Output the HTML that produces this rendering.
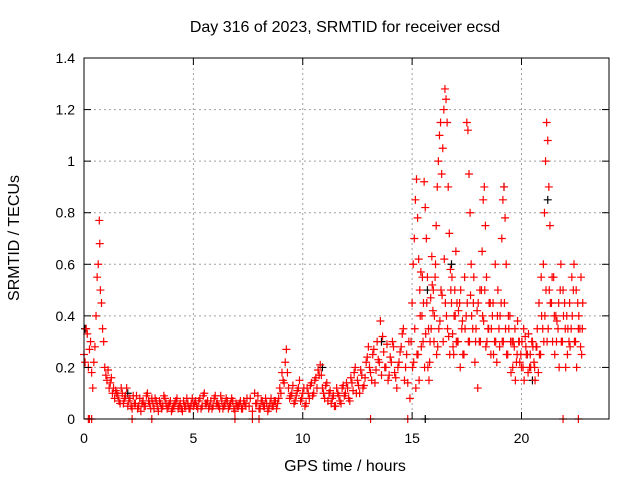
<!DOCTYPE html>
<html><head><meta charset="utf-8"><style>
body{margin:0;background:#fff}
svg{display:block;font-family:"Liberation Sans",sans-serif}
</style></head><body>
<svg id="c" width="640" height="480">
<text x="345" y="32" text-anchor="middle" font-size="16">Day 316 of 2023, SRMTID for receiver ecsd</text>
<text x="345" y="471" text-anchor="middle" font-size="16">GPS time / hours</text>
<text transform="translate(19,238) rotate(-90)" text-anchor="middle" font-size="16">SRMTID / TECUs</text>
<g id="grid"></g><g id="marks"></g><g id="axes"></g>
</svg>
<script>
const hours=[0,0.05,0.1,0.15,0.2,0.25,0.3,0.35,0.4,0.45,0.5,0.55,0.6,0.65,0.7,0.72,0.75,0.8,0.85,0.9,0.95,1.0,1.05,1.1,1.15,1.2,1.3,1.35,1.4,1.5,1.6,1.7,1.8,1.9,2.0,2.1,2.2,2.3,2.4,2.5,2.6,2.7,2.8,2.9,3.0,3.1,3.2,3.3,3.4,3.5,3.6,3.7,3.8,3.9,4.0,4.1,4.2,4.3,4.4,4.5,4.6,4.7,4.8,4.9,5.0,5.1,5.2,5.3,5.4,5.5,5.6,5.7,5.8,5.9,6.0,6.1,6.2,6.3,6.4,6.5,6.6,6.7,6.8,6.9,7.0,7.1,7.2,7.3,7.4,7.6,7.7,7.8,7.9,8.0,8.1,8.2,8.3,8.4,8.5,8.6,8.7,8.8,8.9,9.0,9.1,9.2,9.25,9.3,9.35,9.4,9.5,9.6,9.7,9.8,9.9,10.0,10.1,10.2,10.3,10.4,10.5,10.6,10.7,10.8,10.85,10.9,11.0,11.1,11.2,11.3,11.4,11.5,11.6,11.7,11.8,11.9,12.0,12.1,12.2,12.3,12.4,12.5,12.6,12.7,12.8,12.9,13.0,13.1,13.2,13.3,13.4,13.5,13.55,13.6,13.7,13.8,13.9,14.0,14.1,14.2,14.3,14.4,14.5,14.6,14.7,14.8,14.9,14.95,15.0,15.05,15.1,15.15,15.2,15.25,15.3,15.35,15.4,15.45,15.5,15.55,15.6,15.65,15.7,15.75,15.8,15.85,15.9,15.95,16.0,16.05,16.1,16.15,16.2,16.25,16.3,16.35,16.4,16.45,16.5,16.55,16.6,16.65,16.7,16.75,16.8,16.85,16.9,16.95,17.0,17.05,17.1,17.2,17.3,17.4,17.5,17.55,17.6,17.65,17.7,17.8,17.9,18.0,18.1,18.2,18.25,18.3,18.35,18.4,18.5,18.6,18.7,18.8,18.9,19.0,19.1,19.15,19.2,19.25,19.3,19.4,19.5,19.6,19.7,19.8,19.9,20.0,20.1,20.2,20.3,20.4,20.5,20.6,20.7,20.8,20.9,21.0,21.05,21.1,21.15,21.2,21.25,21.3,21.4,21.5,21.6,21.7,21.8,21.9,22.0,22.1,22.2,22.3,22.4,22.5,22.6,22.7,22.8,
15.02,15.12,15.22,15.32,15.42,15.52,15.62,15.72,15.82,15.92,16.02,16.12,16.22,16.32,16.42,16.52,16.62,16.72,16.82,16.92,17.02,17.12,17.22,17.32,17.42,17.52,17.62,17.72,17.82,17.92,18.02,18.12,18.22,18.32,18.42,18.52,18.62,18.72,18.82,18.92,19.02,19.12,19.22,19.32,19.42,19.52,19.62,19.72,19.82,19.92,20.02,20.12,20.22,20.32,20.42,20.52,20.62,20.72,20.82,20.92,21.02,21.12,21.22,21.32,21.42,21.52,21.62,21.72,21.82,21.92,22.02,22.12,22.22,22.32,22.42,22.52,22.62,22.72,22.78,
0.2,0.25,0.35,2.2,3.1,6.9,7.7,8.0,13.1,14.8,21.9,22.6];
const tecu=[.25,.22,.35,.33,.2,.27,.3,.18,.12,.22,.28,.4,.55,.6,.77,.68,.5,.45,.35,.3,.2,.17,.15,.19,.12,.14,.1,.12,.08,.1,.07,.12,.06,.09,.05,.08,.04,.06,.09,.05,.03,.07,.05,.1,.06,.08,.04,.07,.03,.06,.05,.08,.04,.06,.03,.05,.07,.04,.06,.03,.05,.08,.04,.06,.05,.07,.04,.08,.05,.1,.06,.04,.07,.05,.09,.06,.04,.07,.05,.08,.04,.06,.07,.03,.05,.06,.04,.07,.05,.08,.03,.1,.06,.04,.07,.05,.08,.03,.06,.05,.07,.04,.08,.1,.15,.22,.27,.18,.12,.08,.1,.06,.09,.12,.07,.1,.05,.12,.08,.14,.1,.16,.19,.21,.17,.12,.08,.14,.1,.06,.09,.05,.1,.07,.12,.09,.14,.08,.16,.11,.2,.15,.1,.17,.13,.22,.28,.18,.25,.14,.3,.22,.38,.17,.26,.2,.15,.24,.3,.18,.12,.22,.28,.35,.2,.14,.08,.3,.45,.6,.7,.85,.93,.78,.62,.5,.57,.4,.3,.92,.82,.7,.55,.35,.22,.47,.63,.42,.3,.55,.75,.9,1.0,1.1,1.15,.95,1.05,1.2,1.28,1.24,1.15,.9,.72,.58,.45,.33,.25,.5,.65,.45,.3,.2,.38,.55,1.15,1.12,.95,.8,.6,.45,.3,.12,.5,.65,.85,.9,.75,.55,.35,.25,.45,.6,.4,.28,.7,.85,.9,.78,.6,.4,.3,.2,.35,.25,.3,.2,.35,.28,.18,.25,.3,.2,.28,.45,.55,.6,.8,1.0,1.15,1.08,.9,.75,.55,.4,.3,.45,.6,.5,.35,.25,.45,.55,.6,.5,.35,.28,.45,
.2,.35,.25,.15,.28,.45,.33,.2,.3,.52,.4,.25,.35,.5,.3,.45,.35,.25,.55,.4,.3,.42,.5,.25,.35,.45,.3,.4,.55,.35,.45,.3,.4,.5,.3,.45,.35,.25,.3,.5,.4,.3,.45,.25,.35,.18,.3,.15,.38,.22,.3,.15,.25,.33,.2,.28,.15,.35,.25,.4,.3,.5,.35,.45,.3,.25,.38,.2,.3,.4,.2,.35,.28,.4,.3,.2,.4,.55,.35,
0,0,0,0,0,0,0,0,0,0,0,0];
const extraHours=[1.25,1.45,1.55,1.65,1.75,1.85,1.95,2.05,2.15,2.25,2.35,2.45,2.55,2.65,2.75,2.85,2.95,3.05,3.15,3.25,3.35,3.45,3.55,3.65,3.75,3.85,3.95,4.05,4.15,4.25,4.35,4.45,4.55,4.65,4.75,4.85,4.95,5.05,5.15,5.25,5.35,5.45,5.55,5.65,5.75,5.85,5.95,6.05,6.15,6.25,6.35,6.45,6.55,6.65,6.75,6.85,6.95,7.05,7.15,7.25,7.35,7.45,7.55,7.85,7.95,8.05,8.15,8.25,8.35,8.45,8.55,8.65,8.75,8.85,8.95,9.05,9.15,9.45,9.55,9.65,9.75,9.85,9.95,10.05,10.15,10.25,10.35,10.45,10.55,10.65,10.75,10.95,11.05,11.15,11.25,11.35,11.45,11.55,11.65,11.75,11.85,11.95,12.05,12.15,12.25,12.35,12.45,12.55,12.65,12.75,12.85,12.95,13.05,13.15,13.25,13.35,13.45,13.65,13.75,13.85,13.95,14.05,14.15,14.25,14.35,14.45,14.55,14.65,14.75,14.85,
15.07,15.17,15.27,15.37,15.47,15.57,15.67,15.77,15.87,15.97,16.07,16.17,16.27,16.37,16.47,16.57,16.67,16.77,16.87,16.97,17.07,17.17,17.27,17.37,17.47,17.57,17.67,17.77,17.87,17.97,18.07,18.17,18.27,18.37,18.47,18.57,18.67,18.77,18.87,18.97,19.07,19.17,19.27,19.37,19.47,19.57,19.67,19.77,19.87,19.97,20.07,20.17,20.27,20.37,20.47,20.57,20.67,20.77,20.87,20.97,21.07,21.17,21.27,21.37,21.47,21.57,21.67,21.77,21.87,21.97,22.07,22.17,22.27,22.37,22.47,22.57,22.67,22.75];
const extraTecu=[.16,.11,.09,.06,.1,.08,.12,.07,.05,.09,.06,.04,.08,.06,.05,.09,.07,.04,.06,.08,.05,.07,.04,.09,.06,.05,.07,.04,.06,.08,.05,.04,.07,.05,.06,.04,.08,.06,.05,.07,.04,.09,.06,.07,.05,.04,.08,.06,.05,.09,.04,.06,.07,.05,.08,.04,.06,.05,.07,.04,.06,.08,.05,.06,.09,.04,.07,.05,.06,.04,.08,.05,.07,.06,.12,.18,.14,.09,.13,.07,.11,.15,.08,.12,.06,.1,.13,.09,.15,.12,.17,.1,.13,.07,.11,.08,.05,.12,.09,.06,.13,.1,.12,.07,.14,.18,.1,.13,.19,.12,.16,.24,.2,.15,.27,.19,.23,.32,.2,.29,.17,.22,.28,.16,.2,.26,.33,.15,.25,.3,.22,.12,
.25,.4,.55,.2,.45,.15,.35,.5,.6,.28,.38,.48,.62,.4,.32,.5,.28,.4,.3,.45,.35,.25,.4,.3,.48,.35,.22,.42,.3,.5,.38,.28,.35,.45,.4,.3,.22,.35,.45,.3,.35,.25,.4,.3,.28,.22,.3,.25,.2,.32,.25,.2,.3,.22,.28,.18,.25,.35,.4,.3,.5,.45,.55,.4,.35,.5,.3,.45,.4,.3,.35,.5,.3,.45,.35,.25,.4,.32];
const blackHours=[0.05,2.0,15.6,15.7,16.8,19.2,20.5,21.2,10.9,13.6];
const blackTecu=[.35,.1,0,.5,.6,.9,.15,.85,.2,.3];
const yTicks=[0,0.2,0.4,0.6,0.8,1,1.2,1.4];
const xTicks=[0,5,10,15,20];
const yTickLabels=["0","0.2","0.4","0.6","0.8","1","1.2","1.4"];

const L=84,R=609,T=58,B=419,XMAX=24,YMAX=1.4;
const sx=h=>L+h/XMAX*(R-L), sy=v=>B-v/YMAX*(B-T);
const NS="http://www.w3.org/2000/svg";
function mk(tag,parent,attrs){const e=document.createElementNS(NS,tag);for(const k in attrs)e.setAttribute(k,attrs[k]);parent.appendChild(e);return e;}
const grid=document.getElementById('grid'),axes=document.getElementById('axes'),marks=document.getElementById('marks');
yTicks.forEach((v,i)=>{
  const y=sy(v);
  if(i>0&&i<yTicks.length-1){const g=mk('line',grid,{x1:L,x2:R,y1:y,y2:y,stroke:'#a0a0a0','stroke-dasharray':'2,3'});
  
  }
  mk('line',axes,{x1:L,x2:L+7,y1:y,y2:y,stroke:'#000'});
  mk('line',axes,{x1:R-7,x2:R,y1:y,y2:y,stroke:'#000'});
  const t=mk('text',axes,{x:L-9,y:y+5,'text-anchor':'end','font-size':14});
  t.textContent=yTickLabels[i];
  
  
});
xTicks.forEach(h=>{
  const x=sx(h);
  if(h>0){const g=mk('line',grid,{x1:x,x2:x,y1:T,y2:B,stroke:'#a0a0a0','stroke-dasharray':'2,3'});
  
  }
  mk('line',axes,{x1:x,x2:x,y1:B,y2:B-7,stroke:'#000'});
  mk('line',axes,{x1:x,x2:x,y1:T,y2:T+7,stroke:'#000'});
  const t=mk('text',axes,{x:x,y:B+24,'text-anchor':'middle','font-size':14});
  t.textContent=String(h);
  
  
});
const fr=mk('rect',axes,{x:L,y:T,width:R-L,height:B-T,fill:'none',stroke:'#000'});


function plus(h,v,col){
  const x=sx(h),y=sy(v);
  const p=mk('path',marks,{d:`M${x-4},${y}H${x+4}M${x},${y-4}V${y+4}`,stroke:col,'stroke-width':1.2,fill:'none'});
  
  
}
blackHours.forEach((h,i)=>plus(h,blackTecu[i],'#000'));
hours.forEach((h,i)=>plus(h,tecu[i],'#ff0000'));
extraHours.forEach((h,i)=>plus(h,extraTecu[i],'#ff0000'));
</script>
</body></html>
